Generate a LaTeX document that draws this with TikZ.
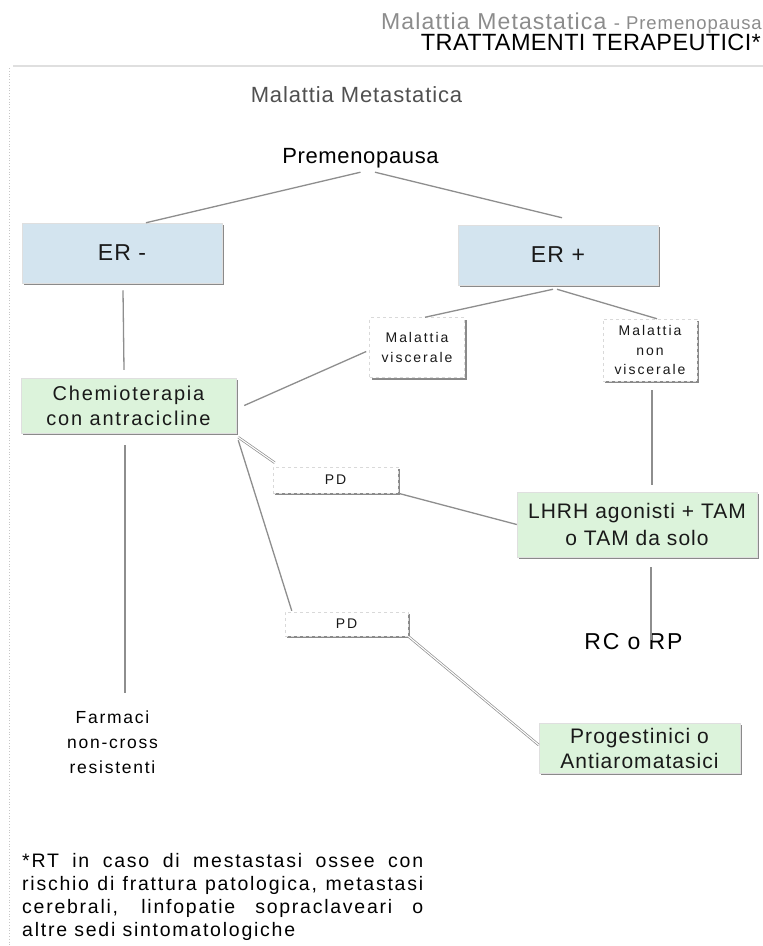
\documentclass[tikz,border=0pt]{standalone}
\usepackage{fontspec}
\setmainfont{Liberation Sans}
\usetikzlibrary{shadows}
\definecolor{boxblue}{HTML}{D3E4EF}
\definecolor{boxgreen}{HTML}{DCF3DB}
\definecolor{lineg}{HTML}{8E8E8E}
\definecolor{shadowg}{HTML}{8A8A8A}
\definecolor{headg}{HTML}{8C8C8C}
\definecolor{titleg}{HTML}{505050}
\newcommand{\myfs}[2]{\fontsize{#1}{#2}\selectfont}
\newcommand{\mylsp}[1]{\addfontfeature{LetterSpace=#1}}
\begin{document}
\begin{tikzpicture}[x=1pt,y=-1pt,
  conn/.style={draw=lineg,line width=1.3pt},
  dconn/.style={draw=lineg,line width=0.7pt,double=white,double distance=1.1pt},
  boxbase/.style={rectangle,inner sep=0pt,align=center,text=black!90,
    drop shadow={shadow xshift=2.2pt,shadow yshift=-2.2pt,fill=shadowg,opacity=1}},
  bluebox/.style={boxbase,fill=boxblue,draw=gray!25,line width=0.5pt,
    minimum width=200pt,minimum height=60pt,font=\myfs{23}{28}\mylsp{5}},
  greenbox/.style={boxbase,fill=boxgreen,draw=gray!25,line width=0.5pt},
  smallbox/.style={boxbase,fill=white,draw=gray!30,dashed,line width=0.5pt,
    font=\myfs{14}{19.5}\mylsp{14}},
  plain/.style={inner sep=0pt,align=center}
]
\useasboundingbox (0,0) rectangle (763,946);
\fill[white] (0,0) rectangle (763,946);
\draw[gray!25,line width=1.5pt] (13,66) -- (763,66);
\draw[gray!45,dotted,line width=0.8pt] (9,68) -- (9,946);

% header
\node[anchor=base east,inner sep=0pt,text=headg] (hdr1) at (762,29)
  {\myfs{23}{27}\mylsp{5}Malattia Metastatica \myfs{18.5}{22}- Premenopausa};
\node[anchor=base east,inner sep=0pt,text=black] (hdr2) at (761,50)
  {\myfs{23.5}{27}\mylsp{1.5}TRATTAMENTI TERAPEUTICI*};

\node[anchor=base,inner sep=0pt,text=titleg] (title) at (356.5,102)
  {\myfs{22}{26}\mylsp{4}Malattia Metastatica};
\node[plain,minimum height=28pt,font=\myfs{22}{26}\mylsp{3}] (pre) at (360.5,158) {Premenopausa};

% boxes
\node[bluebox] (erm) at (122,253) {ER -};
\node[bluebox] (erp) at (558,255) {ER +};
\node[smallbox,minimum width=95pt,minimum height=60pt] (visc) at (417,347.5) {Malattia\\viscerale};
\node[smallbox,minimum width=94pt,minimum height=62pt] (nonv) at (650,350) {Malattia\\non\\viscerale};
\node[greenbox,minimum width=215pt,minimum height=55pt,font=\myfs{20}{25}\mylsp{9}] (chemio) at (128.5,405.5)
  {Chemioterapia\\con antracicline};
\node[smallbox,minimum width=125pt,minimum height=26pt] (pd1) at (335.5,480) {PD};
\node[smallbox,minimum width=123pt,minimum height=24pt] (pd2) at (346.5,624) {PD};
\node[greenbox,minimum width=240pt,minimum height=65pt,font=\myfs{21}{27}\mylsp{5}] (lhrh) at (637,524.5)
  {LHRH agonisti + TAM\\o TAM da solo};
\node[greenbox,minimum width=201pt,minimum height=50pt,font=\myfs{21}{25}\mylsp{5}] (prog) at (639.5,748)
  {Progestinici o\\Antiaromatasici};
\node[plain,minimum height=24pt,font=\myfs{23}{27}\mylsp{8}] (rc) at (633.5,642) {RC o RP};
\node[plain,anchor=north,font=\myfs{17.5}{25}\mylsp{10}] (farm) at (112.5,711)
  {Farmaci\\non-cross\\resistenti};

% footnote
\node[anchor=base west,inner sep=0pt,font=\myfs{19.5}{23}\mylsp{9}] (fn1) at (22,867)
  {\makebox[401pt][s]{*RT in caso di mestastasi ossee con}};
\node[anchor=base west,inner sep=0pt,font=\myfs{19.5}{23}\mylsp{9}] (fn2) at (22,890)
  {\makebox[401pt][s]{rischio di frattura patologica, metastasi}};
\node[anchor=base west,inner sep=0pt,font=\myfs{19.5}{23}\mylsp{9}] (fn3) at (22,913)
  {\makebox[401pt][s]{cerebrali, linfopatie sopraclaveari o}};
\node[anchor=base west,inner sep=0pt,font=\myfs{19.5}{23}\mylsp{9}] (fn4) at (22,936)
  {altre sedi sintomatologiche};

% connectors
\draw[conn] (pre.south) -- ([xshift=24pt]erm.north);
\draw[conn] ([xshift=14.5pt]pre.south) -- ([xshift=4pt,yshift=7pt]erp.north);
\draw[conn] ([xshift=-5pt,yshift=-4pt]erp.south) -- ([xshift=8pt]visc.north);
\draw[conn] ([xshift=-1pt,yshift=-4pt]erp.south) -- ([xshift=7pt]nonv.north);
\draw[conn] ([xshift=-3pt,yshift=-4pt]visc.west) -- ([xshift=8pt]chemio.east);
\draw[conn] ([xshift=2pt,yshift=-9pt]nonv.south) -- ([xshift=15pt,yshift=7pt]lhrh.north);
\draw[conn] ([xshift=1pt,yshift=-7pt]erm.south) -- ([xshift=-4.5pt,yshift=8pt]chemio.north);
\draw[conn] ([xshift=-3.5pt,yshift=-12pt]chemio.south) -- ([xshift=12.5pt,yshift=18pt]farm.north);
\draw[dconn] ([xshift=2pt,yshift=-4pt]chemio.south east) -- ([xshift=2pt,yshift=4pt]pd1.north west);
\draw[conn] ([xshift=2pt,yshift=-7pt]chemio.south east) -- ([xshift=7pt,yshift=1pt]pd2.north west);
\draw[conn] (pd1.south east) -- (lhrh.west);
\draw[dconn] (pd2.south east) -- ([yshift=3pt]prog.west);
\draw[conn] ([xshift=14pt,yshift=-10pt]lhrh.south) -- ([xshift=17.5pt,yshift=-10pt]rc.north);
\draw[dconn,draw=lineg!60] ([xshift=17.5pt,yshift=1pt]rc.south) -- ([xshift=11.5pt,yshift=6pt]prog.north);
\end{tikzpicture}
\end{document}
